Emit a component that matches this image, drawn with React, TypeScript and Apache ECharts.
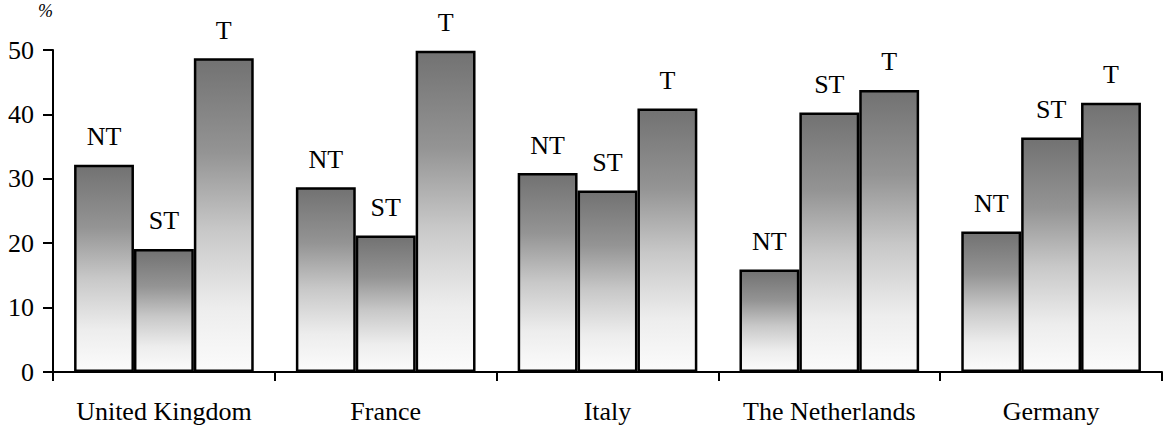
import React, { useEffect, useRef } from "react";
import * as echarts from "echarts";

// Countries along the x axis
const countries = ["United Kingdom", "France", "Italy", "The Netherlands", "Germany"];

// Share (%) per group
const ntValues = [32.2, 28.7, 30.9, 15.9, 21.8];
const stValues = [19.1, 21.2, 28.2, 40.3, 36.4];
const tValues = [48.7, 49.9, 40.9, 43.8, 41.8];

const seriesNames = ["NT", "ST", "T"];
const seriesValues = [ntValues, stValues, tValues];

// Y axis range
const yMin = 0;
const yMax = 50;
const yStep = 10;

const SERIF = "Liberation Serif";

const barFill = new echarts.graphic.LinearGradient(0, 0, 0, 1, [
  { offset: 0, color: "#727272" },
  { offset: 0.3, color: "#949494" },
  { offset: 0.55, color: "#c8c8c8" },
  { offset: 0.8, color: "#ededed" },
  { offset: 1, color: "#fbfbfb" },
]);

function buildOption() {
  return {
    animation: false,
    backgroundColor: "#ffffff",
    grid: { left: 53, right: 3, top: 50, bottom: 57, containLabel: false },
    xAxis: {
      type: "category",
      data: countries,
      axisLine: { lineStyle: { color: "#000", width: 2 } },
      axisTick: { show: true, length: 9, lineStyle: { color: "#000", width: 2 } },
      axisLabel: {
        interval: 0,
        color: "#000",
        fontFamily: SERIF,
        fontSize: 26,
        margin: 26,
      },
    },
    yAxis: {
      type: "value",
      min: yMin,
      max: yMax,
      interval: yStep,
      name: "%",
      nameLocation: "end",
      nameGap: 30,
      nameTextStyle: {
        color: "#000",
        fontFamily: SERIF,
        fontStyle: "italic",
        fontSize: 18,
        align: "right",
      },
      splitLine: { show: false },
      axisLine: { show: true, lineStyle: { color: "#000", width: 2 } },
      axisTick: { show: true, length: 10, lineStyle: { color: "#000", width: 2 } },
      axisLabel: { color: "#000", fontFamily: SERIF, fontSize: 26, margin: 19 },
    },
    series: seriesNames.map((name, i) => ({
      name,
      type: "bar",
      data: seriesValues[i],
      barGap: "0%",
      barCategoryGap: "19%",
      itemStyle: { color: barFill, borderColor: "#000", borderWidth: 2.5 },
      label: {
        show: true,
        position: "top",
        distance: 15,
        formatter: name,
        color: "#000",
        fontFamily: SERIF,
        fontSize: 26,
      },
    })),
  };
}

export default function App() {
  const ref = useRef<HTMLDivElement>(null);

  useEffect(() => {
    if (!ref.current) return;
    const chart = echarts.init(ref.current, undefined, { renderer: "svg" });
    chart.setOption(buildOption());

    // Redraw once the serif face is resolved so the labels pick it up.
    let alive = true;
    const redraw = () => {
      if (!alive) return;
      chart.clear();
      chart.setOption(buildOption());
    };
    if (document.fonts && document.fonts.load) {
      document.fonts
        .load(`26px "${SERIF}"`)
        .then(redraw)
        .catch(() => {});
    }
    const timer = window.setTimeout(redraw, 150);

    return () => {
      alive = false;
      window.clearTimeout(timer);
      chart.dispose();
    };
  }, []);

  return (
    <div style={{ fontFamily: SERIF }}>
      <div
        ref={ref}
        style={{ position: "fixed", left: 0, top: 0, width: 1165, height: 429 }}
      />
    </div>
  );
}
